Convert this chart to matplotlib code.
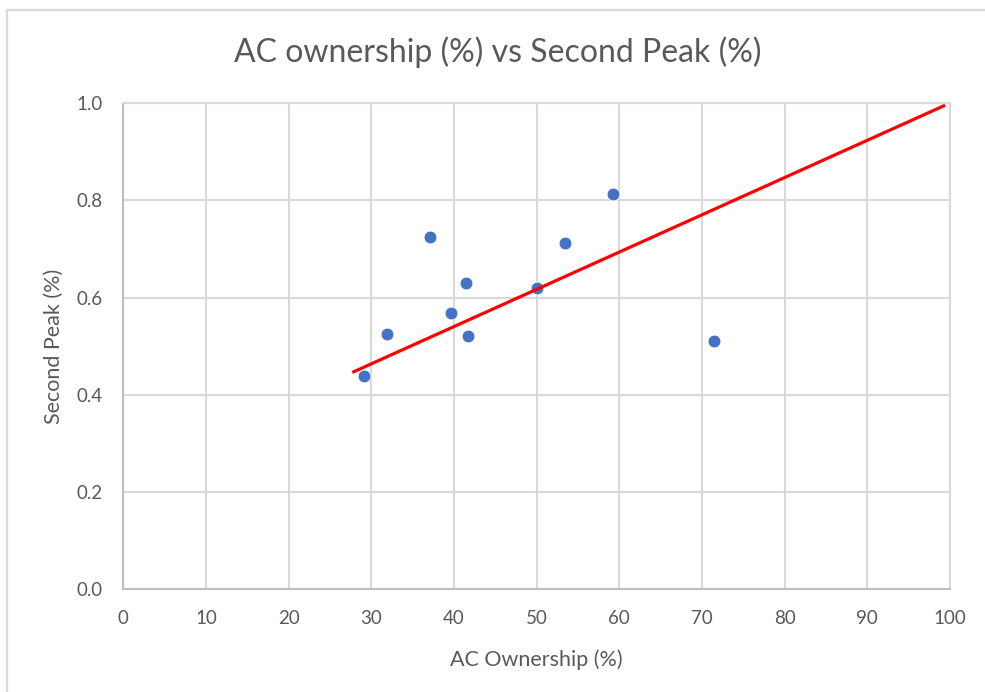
import matplotlib.pyplot as plt
from matplotlib.lines import Line2D

# AC ownership vs second peak, one point per region
ac_ownership = [29.15, 31.9, 37.1, 39.6, 41.4, 41.7, 50.0, 53.4, 59.2, 71.4]
second_peak = [0.438, 0.526, 0.724, 0.568, 0.631, 0.521, 0.619, 0.713, 0.813, 0.511]

# red guide line end points
trend_x = [27.7, 99.4]
trend_y = [0.446, 0.996]

x_ticks = [0, 10, 20, 30, 40, 50, 60, 70, 80, 90, 100]
y_ticks = [0.0, 0.2, 0.4, 0.6, 0.8, 1.0]

plt.rcParams['font.family'] = ['Lato', 'DejaVu Sans']
text_col = '#595959'
grid_col = '#d9d9d9'

fig = plt.figure(figsize=(9.85, 6.92), dpi=100)
ax = fig.add_axes([0.1252, 0.1488, 0.8393, 0.7019])

ax.scatter(ac_ownership, second_peak, s=85, color='#4472C4',
           edgecolors='white', linewidths=0.6, zorder=3)
ax.plot(trend_x, trend_y, color='#FF0000', lw=2.3, zorder=4,
        solid_capstyle='butt')

ax.set_xlim(0, 100)
ax.set_ylim(0, 1.0)
ax.set_xticks(x_ticks)
ax.set_yticks(y_ticks)
ax.set_yticklabels([f'{v:.1f}' for v in y_ticks])
ax.tick_params(length=0, labelsize=13.5, labelcolor=text_col)
ax.tick_params(axis='x', pad=15)
ax.tick_params(axis='y', pad=15)
ax.grid(True, color=grid_col, lw=1.5)
ax.set_axisbelow(True)

for side in ['top', 'right']:
    ax.spines[side].set_color(grid_col)
    ax.spines[side].set_linewidth(1.5)
for side in ['bottom', 'left']:
    ax.spines[side].set_color('#bfbfbf')
    ax.spines[side].set_linewidth(1.5)

ax.set_xlabel('AC Ownership (%)', fontsize=15.5, color=text_col, labelpad=16)
ax.set_ylabel('Second Peak (%)', fontsize=15.5, color=text_col, labelpad=9)
fig.text(0.505, 0.925, 'AC ownership (%) vs Second Peak (%)', ha='center',
         va='center', fontsize=23, color=text_col)

# chart frame (top and left edges)
fig.add_artist(Line2D([7 / 985, 7 / 985], [0, 1 - 10 / 692],
                      transform=fig.transFigure, color=grid_col, lw=1.6))
fig.add_artist(Line2D([7 / 985, 1], [1 - 10 / 692, 1 - 10 / 692],
                      transform=fig.transFigure, color=grid_col, lw=1.6))

fig.savefig('out.png', dpi=100, facecolor='white')
